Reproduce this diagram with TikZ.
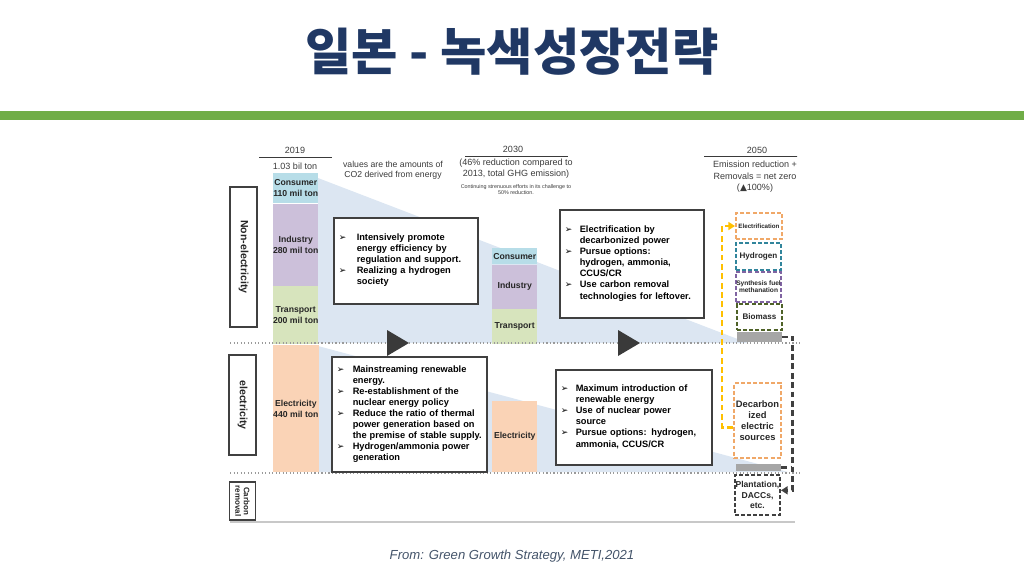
\documentclass[tikz,border=0pt]{standalone}
\usepackage{fontspec}
\setmainfont{Liberation Sans}
\newfontfamily\krfont{Noto Sans CJK KR}
\newfontfamily\symfont{DejaVu Sans}
\usetikzlibrary{positioning,arrows.meta}
\newlength{\unitpx}
\setlength{\unitpx}{0.03cm}
\newcommand{\fs}[2]{\fontsize{#1}{#2}\selectfont}
\newcommand{\mk}{{\symfont\fs{7.6}{7.6}➢}}
\definecolor{titleNavy}{HTML}{203864}
\definecolor{slideGreen}{HTML}{70AD47}
\definecolor{footGray}{HTML}{44546A}
\definecolor{noteGray}{HTML}{3A3A3A}
\definecolor{labelDark}{HTML}{262626}
\definecolor{boxGray}{HTML}{404040}
\definecolor{sepGray}{HTML}{9A9A9A}
\definecolor{ruleGray}{HTML}{C8C8C8}
\definecolor{bgBlue}{HTML}{DCE6F2}
\definecolor{consumerCyan}{HTML}{B7DDE8}
\definecolor{industryPurple}{HTML}{CCC0DA}
\definecolor{transportGreen}{HTML}{D7E4BD}
\definecolor{elecPeach}{HTML}{FAD3B6}
\definecolor{arrowDark}{HTML}{3A3A3A}
\definecolor{elecOrange}{HTML}{F0A868}
\definecolor{hydroTeal}{HTML}{31859C}
\definecolor{synthPurple}{HTML}{8064A2}
\definecolor{bioGreen}{HTML}{4F6228}
\definecolor{stubGray}{HTML}{A6A6A6}
\definecolor{linkYellow}{HTML}{FFC000}
\definecolor{linkDark}{HTML}{404040}
\tikzset{
  sideLabel/.style={
    draw=boxGray,
    line width=1pt,
    fill=white,
    rotate=-90,
    inner sep=0pt,
    align=center,
    text=labelDark,
    font=\bfseries\fs{9}{10}
  },
  barBlock/.style={
    inner sep=0pt,
    minimum width=45\unitpx,
    anchor=north west,
    align=center,
    text=labelDark,
    font=\bfseries\fs{7.4}{9}
  },
  planBox/.style={
    draw=boxGray,
    line width=1.3pt,
    fill=white,
    anchor=north west,
    inner xsep=5\unitpx,
    inner ysep=0pt,
    align=left,
    text=black,
    font=\bfseries\fs{7.9}{9.4}
  },
  noteText/.style={
    text=noteGray,
    align=center,
    inner sep=0pt,
    font=\fs{7.7}{9.4}
  },
  yearRule/.style={
    draw=noteGray,
    line width=0.8pt
  },
  sepLine/.style={
    draw=sepGray,
    line width=1pt,
    dotted
  },
  dashBox/.style={
    draw=#1,
    line width=1.7pt,
    dash pattern=on 3.4pt off 1.8pt,
    inner sep=0pt,
    align=center,
    text=labelDark
  },
  grayBlock/.style={
    fill=stubGray,
    inner sep=0pt,
    minimum width=45\unitpx
  },
  linkLine/.style={
    line width=2.2pt,
    dash pattern=on 5pt off 3pt,
    -{Triangle[length=2mm,width=2.4mm]}
  }
}
\begin{document}
\begin{tikzpicture}[x=0.03cm, y=-0.03cm]
  \useasboundingbox (0,0) rectangle (1024,576);

  \node[text=titleNavy, font=\krfont\bfseries\fs{43}{50}] (title) at (512,52) {일본 - 녹색성장전략};
  \fill[slideGreen] (0,111) rectangle (1024,120);

  % falling emission wedges
  \fill[bgBlue] (318,178) -- (748,343) -- (318,343) -- cycle;
  \fill[bgBlue] (318,346) -- (788,472) -- (318,472) -- cycle;

  \node[sideLabel, minimum width=140\unitpx, minimum height=27\unitpx] (nonElecTag) at (243.5,257) {Non-electricity};
  \node[sideLabel, minimum width=100\unitpx, minimum height=27\unitpx] (elecTag) at (242.5,405) {electricity};
  \node[sideLabel, minimum width=38\unitpx, minimum height=26\unitpx, font=\bfseries\fs{6.8}{7.2}] (carbonTag) at (242.5,501) {Carbon\\removal};

  % 2019
  \node[noteText] (year19) at (295,150) {2019};
  \draw[yearRule] (259,157) -- (332,157);
  \node[noteText] (total19) at (295,166) {1.03 bil ton};
  \node[noteText, font=\fs{7.4}{8.2}] (co2Note) at (393,170) {values are the amounts of\\CO2 derived from energy};
  \node[barBlock, minimum height=30\unitpx, fill=consumerCyan] (cons19) at (273,173) {Consumer\\110 mil ton};
  \node[barBlock, minimum height=82\unitpx, fill=industryPurple, below=0pt of cons19] (ind19) {Industry\\280 mil ton};
  \node[barBlock, minimum height=58\unitpx, fill=transportGreen, below=0pt of ind19] (trans19) {Transport\\200 mil ton};
  \node[barBlock, minimum height=127\unitpx, fill=elecPeach] (elec19) at (273,345) {Electricity\\440 mil ton};

  % 2030
  \node[noteText] (year30) at (513,149) {2030};
  \draw[yearRule] (465,156) -- (568,156);
  \node[noteText] (target30) at (516,169) {(46\% reduction compared to\\2013, total GHG emission)};
  \node[noteText, font=\fs{4.6}{5.2}] (effort30) at (516,190) {Continuing strenuous efforts in its challenge to\\50\% reduction.};
  \node[barBlock, minimum height=16\unitpx, fill=consumerCyan] (cons30) at (492,248) {Consumer};
  \node[barBlock, minimum height=44\unitpx, fill=industryPurple, below=0pt of cons30] (ind30) {Industry};
  \node[barBlock, minimum height=35\unitpx, fill=transportGreen, below=0pt of ind30] (trans30) {Transport};
  \node[barBlock, minimum height=71\unitpx, fill=elecPeach] (elec30) at (492,401) {Electricity};

  % 2050
  \node[noteText] (year50) at (757,150) {2050};
  \begin{scope}
    \clip (700,140) rectangle (797,200);
    \draw[yearRule] (704,156) -- (800,156);
    \node[noteText, font=\fs{7.7}{9.9}] (goal50) at (755,177) {Emission reduction +\\Removals = net zero\\({\symfont ▲}100\%)};
  \end{scope}

  \draw[sepLine] (230,343) -- (800,343);
  \draw[sepLine] (230,473) -- (800,473);
  \draw[draw=ruleGray, line width=1.5pt] (230,522) -- (795,522);

  \node[planBox, text width=134\unitpx, minimum height=86\unitpx] (plan1) at (333,217) {%
    \begin{tabular}{@{}p{18\unitpx}@{}l@{}}
    \mk & Intensively promote\\
        & energy efficiency by\\
        & regulation and support.\\
    \mk & Realizing a hydrogen\\
        & society
    \end{tabular}};
  \node[planBox, text width=134\unitpx, minimum height=108\unitpx] (plan2) at (559,209) {%
    \begin{tabular}{@{}p{15\unitpx}@{}l@{}}
    \mk & Electrification by\\
        & decarbonized power\\
    \mk & Pursue options:\\
        & hydrogen, ammonia,\\
        & CCUS/CR\\
    \mk & Use carbon removal\\
        & technologies for leftover.
    \end{tabular}};
  \node[planBox, text width=145\unitpx, minimum height=115\unitpx] (plan3) at (331,356) {%
    \begin{tabular}{@{}p{16\unitpx}@{}l@{}}
    \mk & Mainstreaming renewable\\
        & energy.\\
    \mk & Re-establishment of the\\
        & nuclear energy policy\\
    \mk & Reduce the ratio of thermal\\
        & power generation based on\\
        & the premise of stable supply.\\
    \mk & Hydrogen/ammonia power\\
        & generation
    \end{tabular}};
  \node[planBox, text width=146\unitpx, minimum height=95\unitpx] (plan4) at (555,369) {%
    \begin{tabular}{@{}p{15\unitpx}@{}l@{}}
    \mk & Maximum introduction of\\
        & renewable energy\\
    \mk & Use of nuclear power\\
        & source\\
    \mk & Pursue options: hydrogen,\\
        & ammonia, CCUS/CR
    \end{tabular}};

  \fill[arrowDark] (387,330) -- (409,343) -- (387,356) -- cycle;
  \fill[arrowDark] (618,330) -- (640,343) -- (618,356) -- cycle;

  \node[dashBox=elecOrange, minimum width=46\unitpx, minimum height=26\unitpx, font=\bfseries\fs{5.3}{6}] (electr) at (759,226) {Electrification};
  \node[dashBox=hydroTeal, minimum width=45\unitpx, minimum height=27\unitpx, font=\bfseries\fs{6.9}{8}] (hydro) at (758.5,256.5) {Hydrogen};
  \node[dashBox=synthPurple, minimum width=45\unitpx, minimum height=30\unitpx, font=\bfseries\fs{5.6}{6}] (synth) at (758.5,287) {Synthesis fuel\\methanation};
  \node[dashBox=bioGreen, minimum width=45\unitpx, minimum height=26\unitpx, font=\bfseries\fs{6.9}{8}] (biomass) at (759.5,317) {Biomass};
  \node[grayBlock, minimum height=10\unitpx] (stub1) at (759,337) {};
  \node[dashBox=elecOrange, minimum width=47\unitpx, minimum height=75\unitpx, font=\bfseries\fs{8}{9.4}] (decarb) at (757.5,420.5) {Decarbon\\ized\\electric\\sources};
  \node[grayBlock, minimum height=7\unitpx] (stub2) at (758.5,467.5) {};
  \node[dashBox=linkDark, minimum width=45\unitpx, minimum height=40\unitpx, font=\bfseries\fs{7.3}{9}] (plant) at (757.5,495) {Plantation,\\DACCs,\\etc.};

  \draw[linkLine, draw=linkYellow] ([yshift=-6pt]decarb.west) -- ++(-11,0) |- (electr.west);
  \draw[linkLine, draw=linkDark] (stub1.east) -- ++(11,0) |- ([yshift=4pt]plant.east);
  \draw[linkLine, draw=linkDark, -] (stub2.east) -- ++(11,0);

  \node[text=footGray, font=\itshape\fs{11.2}{12}] (source) at (512,556) {From: Green Growth Strategy, METI,2021};
\end{tikzpicture}
\end{document}
